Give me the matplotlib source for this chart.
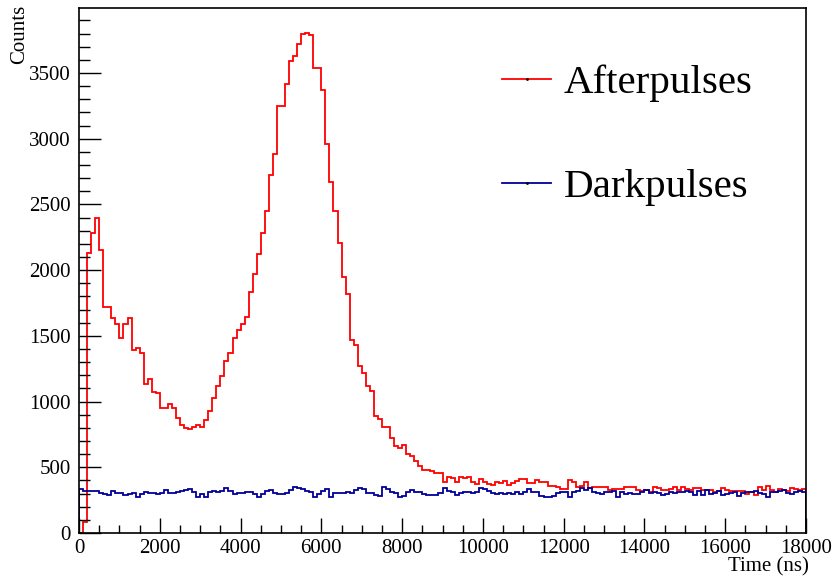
import numpy as np
import matplotlib
matplotlib.use("Agg")
import matplotlib.pyplot as plt
from matplotlib.ticker import MultipleLocator
from matplotlib.lines import Line2D

# histogram binning: 180 bins of 100 ns
bin_edges = np.arange(0, 18001, 100)

afterpulses = [
    0, 86, 2128, 2286, 2400, 2151, 1719, 1719, 1638, 1587,
    1485, 1587, 1638, 1396, 1404, 1371, 1137, 1172, 1073, 1066,
    951, 951, 981, 951, 875, 824, 800, 788, 806, 820,
    806, 862, 928, 1025, 1116, 1198, 1307, 1370, 1482, 1548,
    1594, 1642, 1833, 1968, 2121, 2281, 2452, 2725, 2883, 3247,
    3247, 3417, 3588, 3626, 3722, 3799, 3804, 3786, 3537, 3537,
    3372, 2958, 2667, 2452, 2210, 1948, 1815, 1467, 1434, 1269,
    1218, 1116, 1078, 887, 870, 806, 806, 722, 659, 646,
    666, 602, 582, 549, 506, 481, 481, 473, 455, 455,
    391, 429, 417, 391, 429, 420, 429, 391, 371, 412,
    391, 371, 366, 386, 378, 396, 366, 378, 396, 412,
    412, 378, 380, 404, 386, 386, 361, 361, 353, 336,
    336, 404, 386, 353, 361, 386, 341, 353, 348, 348,
    353, 328, 336, 336, 336, 348, 348, 348, 328, 320,
    328, 315, 348, 341, 328, 328, 336, 353, 328, 353,
    336, 328, 341, 341, 328, 328, 328, 310, 320, 341,
    328, 320, 320, 320, 320, 295, 310, 290, 353, 328,
    361, 328, 310, 336, 328, 320, 341, 333, 328, 333,
]

darkpulses = [
    333, 320, 320, 320, 320, 307, 297, 290, 320, 303,
    303, 290, 297, 307, 272, 297, 315, 303, 307, 297,
    307, 328, 303, 307, 315, 323, 328, 335, 315, 277,
    295, 277, 315, 323, 315, 323, 341, 323, 297, 307,
    303, 315, 310, 297, 277, 297, 323, 328, 303, 295,
    297, 303, 328, 348, 341, 335, 323, 310, 272, 295,
    323, 333, 272, 303, 307, 307, 315, 303, 328, 341,
    335, 307, 303, 290, 285, 348, 333, 310, 307, 277,
    285, 310, 328, 315, 310, 297, 290, 290, 290, 302,
    341, 320, 310, 290, 302, 315, 310, 302, 310, 341,
    336, 320, 302, 295, 307, 295, 302, 295, 315, 295,
    315, 333, 310, 310, 285, 277, 277, 285, 302, 315,
    315, 277, 315, 320, 341, 328, 341, 315, 302, 295,
    310, 315, 320, 277, 315, 295, 302, 295, 295, 310,
    328, 302, 310, 302, 290, 295, 310, 302, 315, 310,
    320, 315, 290, 320, 290, 328, 295, 302, 320, 290,
    295, 302, 310, 285, 302, 315, 310, 320, 302, 295,
    270, 315, 310, 320, 328, 302, 295, 315, 320, 310,
]

plt.rcParams["font.family"] = ["Liberation Serif", "DejaVu Serif"]

fig = plt.figure(figsize=(8.39, 5.78), dpi=100)
ax = fig.add_axes([0.0942, 0.0779, 0.8665, 0.9083])

ax.stairs(afterpulses, bin_edges, baseline=0, color="red", lw=1.3)
ax.stairs(darkpulses, bin_edges, baseline=0, color="#000099", lw=1.3)

ax.set_xlim(0, 18000)
ax.set_ylim(0, 3995)

ax.xaxis.set_major_locator(MultipleLocator(2000))
ax.xaxis.set_minor_locator(MultipleLocator(500))
ax.yaxis.set_major_locator(MultipleLocator(500))
ax.yaxis.set_minor_locator(MultipleLocator(100))

ax.tick_params(axis="both", which="both", direction="in", labelsize=15,
               top=False, right=False, width=1)
ax.tick_params(axis="x", which="major", length=11, pad=4)
ax.tick_params(axis="x", which="minor", length=5.5)
ax.tick_params(axis="y", which="major", length=16, pad=6)
ax.tick_params(axis="y", which="minor", length=8)

for sp in ax.spines.values():
    sp.set_linewidth(1.2)

ax.set_ylabel("Counts", fontsize=15, loc="top")
ax.yaxis.set_label_coords(-0.069, 1.006)
ax.set_xlabel("Time (ns)", fontsize=15, loc="right")
ax.xaxis.set_label_coords(1.004, -0.047)

handles = [
    Line2D([], [], color="red", lw=1.3, marker=".", markersize=2,
           markerfacecolor="black", markeredgecolor="black"),
    Line2D([], [], color="#000099", lw=1.3, marker=".", markersize=2,
           markerfacecolor="black", markeredgecolor="black"),
]
ax.legend(handles, ["Afterpulses", "Darkpulses"], loc="upper left",
          bbox_to_anchor=(0.582, 0.892), frameon=False, fontsize=29.5,
          handlelength=1.2, handletextpad=0.3, labelspacing=1.62,
          borderpad=0, borderaxespad=0)

fig.savefig("out.png", dpi=100)
